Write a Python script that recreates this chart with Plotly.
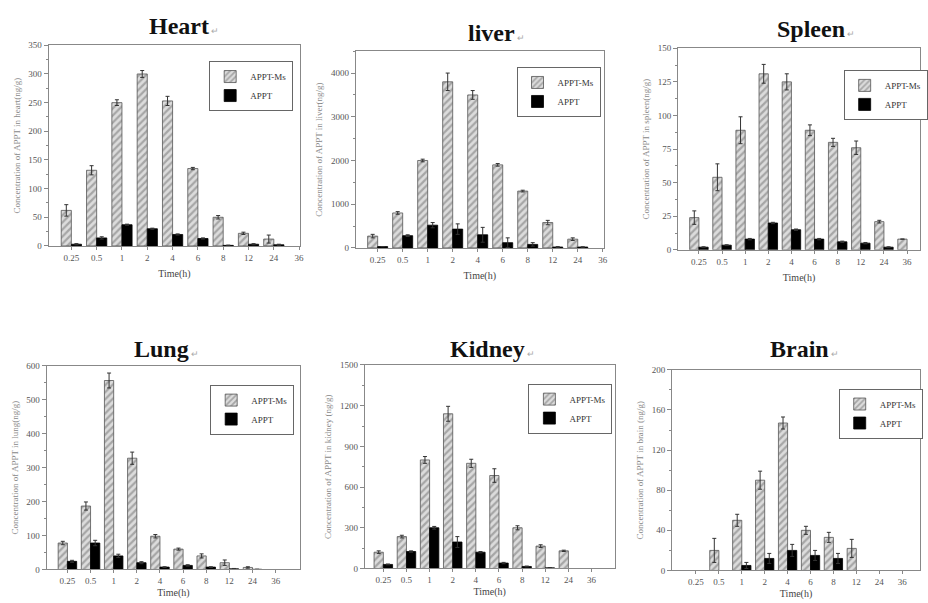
import plotly.graph_objects as go

# ---------------- data ----------------
time_labels = ["0.25", "0.5", "1", "2", "4", "6", "8", "12", "24", "36"]

heart_ms = [62, 132, 250, 300, 253, 135, 50, 22, 12, None]
heart_ms_err = [10, 8, 5, 6, 8, 2, 3, 2, 7, 0]
heart_appt = [3, 14, 37, 30, 20, 13, 1, 3, 2, None]
heart_appt_err = [1, 2, 1, 1, 1, 1, 0.5, 1, 1, 0]

liver_ms = [270, 800, 2000, 3800, 3500, 1900, 1300, 580, 200, None]
liver_ms_err = [40, 30, 30, 200, 100, 30, 20, 50, 30, 0]
liver_appt = [30, 280, 520, 430, 300, 120, 80, 20, 20, None]
liver_appt_err = [0, 20, 60, 120, 170, 110, 40, 10, 5, 0]

spleen_ms = [24, 54, 89, 131, 125, 89, 80, 76, 21, 8]
spleen_ms_err = [5, 10, 10, 7, 6, 4, 3, 5, 1, 0]
spleen_appt = [2, 3.5, 8, 20, 15, 8, 6, 5, 2, None]
spleen_appt_err = [0.3, 0.3, 0.5, 0.5, 0.5, 0.5, 0.5, 0.5, 0.3, 0]

lung_ms = [78, 187, 557, 328, 98, 60, 40, 20, 6, None]
lung_ms_err = [5, 12, 22, 18, 5, 3, 6, 8, 2, 0]
lung_appt = [24, 78, 40, 20, 7, 12, 7, 2, 0.5, None]
lung_appt_err = [3, 8, 5, 3, 1, 2, 1, 1, 0, 0]

kidney_ms = [120, 235, 800, 1140, 775, 685, 300, 165, 130, None]
kidney_ms_err = [10, 10, 25, 55, 30, 50, 15, 10, 5, 0]
kidney_appt = [30, 125, 300, 195, 120, 40, 15, 5, None, None]
kidney_appt_err = [3, 5, 10, 40, 5, 5, 3, 2, 0, 0]

brain_ms = [None, 20, 50, 90, 147, 40, 33, 22, None, None]
brain_ms_err = [0, 12, 6, 9, 6, 4, 5, 9, 0, 0]
brain_appt = [None, None, 5, 12, 20, 15, 12, None, None, None]
brain_appt_err = [0, 0, 3, 5, 6, 5, 5, 0, 0, 0]

organs = ["Heart", "liver", "Spleen", "Lung", "Kidney", "Brain"]
y_titles = [
    "Concentration of APPT in heart(ng/g)",
    "Concentration of APPT in liver(ng/g)",
    "Concentration of APPT in spleen(ng/g)",
    "Concentration of APPT in lung(ng/g)",
    "Concentration of APPT in kidney (ng/g)",
    "Concentration of APPT in brain (ng/g)",
]
series_ms = [heart_ms, liver_ms, spleen_ms, lung_ms, kidney_ms, brain_ms]
series_ms_err = [heart_ms_err, liver_ms_err, spleen_ms_err, lung_ms_err, kidney_ms_err, brain_ms_err]
series_appt = [heart_appt, liver_appt, spleen_appt, lung_appt, kidney_appt, brain_appt]
series_appt_err = [heart_appt_err, liver_appt_err, spleen_appt_err, lung_appt_err, kidney_appt_err, brain_appt_err]
y_max = [350, 4500, 150, 600, 1500, 200]
y_dtick = [50, 1000, 25, 100, 300, 40]

# ---------------- layout (pixel geometry) ----------------
W, H = 928, 603
# plot frames: left, right, top, bottom in px
frames = [
    (49, 303, 41, 245),
    (359, 609, 47, 247),
    (684, 928, 44, 249),
    (47, 303, 367, 574),
    (368, 620, 366, 573),
    (678, 928, 371, 575),
]
x_ranges = [(-0.9, 9.05), (-0.87, 9.04), (-0.9, 9.56), (-0.9, 10.07), (-0.8, 10.0), (-1.04, 9.78)]
title_pos = [(148, 21), (470, 28), (782, 24), (133, 350), (452, 350), (775, 350)]
legend_pos = [(211, 57), (521, 63), (851, 66), (212, 386), (533, 385), (846, 390)]
xtitle_standoff = [8, 8, 8, 3, 3, 3]

FONT = "Liberation Serif"
xs = list(range(len(time_labels)))

fig = go.Figure()
layout = {}
annotations = []

for i in range(6):
    n = "" if i == 0 else str(i + 1)
    xa, ya = "x" + n, "y" + n
    lg = "legend" + n
    fig.add_trace(go.Bar(
        x=xs, y=series_ms[i], name="APPT-Ms", xaxis=xa, yaxis=ya, legend=lg,
        marker=dict(color="#dcdcdc",
                    pattern=dict(shape="/", fgcolor="#707070", size=5, solidity=0.45, fillmode="overlay"),
                    line=dict(color="#555555", width=0.8)),
        error_y=dict(type="data", array=series_ms_err[i], color="#333333", thickness=1, width=2),
    ))
    fig.add_trace(go.Bar(
        x=xs, y=series_appt[i], name="APPT", xaxis=xa, yaxis=ya, legend=lg,
        marker=dict(color="#000000", line=dict(color="#000000", width=0.8)),
        error_y=dict(type="data", array=series_appt_err[i], color="#333333", thickness=1, width=2),
    ))
    l, r, t, b = frames[i]
    axis_common = dict(showline=True, linecolor="#888888", linewidth=1, mirror=True,
                       showgrid=False, zeroline=False, ticks="outside", tickcolor="#888888",
                       tickfont=dict(family=FONT, size=9, color="#555555"))
    layout["xaxis" + n] = dict(
        axis_common, domain=[l / W, r / W], anchor=ya, range=list(x_ranges[i]),
        tickmode="array", tickvals=xs, ticktext=time_labels, ticklen=3,
        title=dict(text="Time(h)", font=dict(family=FONT, size=10, color="#444444"),
                   standoff=xtitle_standoff[i]),
    )
    layout["yaxis" + n] = dict(
        axis_common, domain=[1 - b / H, 1 - t / H], anchor=xa, range=[0, y_max[i]],
        dtick=y_dtick[i], ticklen=4,
        minor=dict(ticks="outside", ticklen=2, dtick=y_dtick[i] / 2, tickcolor="#888888"),
        title=dict(text=y_titles[i], font=dict(family=FONT, size=9, color="#888888"), standoff=6),
    )
    lx, ly = legend_pos[i]
    layout[lg] = dict(x=lx / W, y=1 - ly / H, xref="paper", yref="paper",
                      xanchor="left", yanchor="top", bgcolor="white",
                      bordercolor="#666666", borderwidth=1, tracegroupgap=0, itemwidth=30,
                      font=dict(family=FONT, size=9, color="#333333"))
    tx, ty = title_pos[i]
    annotations.append(dict(
        text="<b>" + organs[i] + "</b><span style='font-size:9px;color:#aaaaaa'> \u21b5</span>",
        x=tx / W, y=1 - ty / H, xref="paper", yref="paper", xanchor="left", yanchor="middle",
        showarrow=False, font=dict(family=FONT, size=24, color="#111111"),
    ))

fig.update_layout(
    **layout,
    annotations=annotations,
    barmode="group", bargap=0.2, bargroupgap=0,
    width=W, height=H, margin=dict(l=0, r=0, t=0, b=0),
    paper_bgcolor="white", plot_bgcolor="white", showlegend=True,
)

fig.write_html("out.html", config={"displayModeBar": False},
               post_script="document.body.style.margin='0px';document.body.style.overflow='hidden';")
